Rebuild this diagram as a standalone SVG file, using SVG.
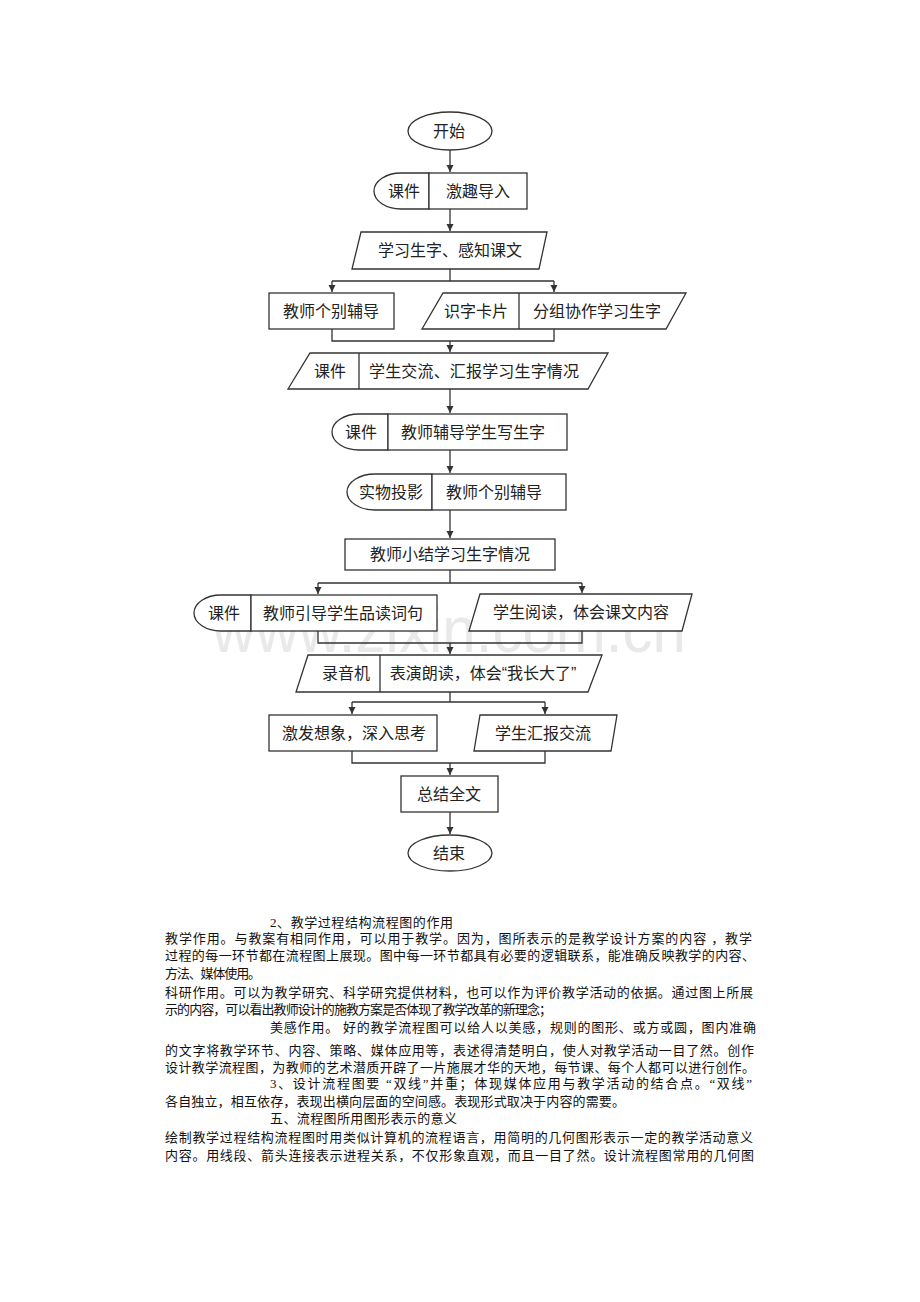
<svg xmlns="http://www.w3.org/2000/svg" width="920" height="1302" viewBox="0 0 920 1302">
<style>
.shape{fill:#fff;stroke:#333;stroke-width:1.3}
.div{stroke:#333;stroke-width:1.3;fill:none}
.lbl{font-family:"Liberation Sans","Noto Sans CJK SC",sans-serif;font-size:16px;fill:#222;text-anchor:middle}
.conn{fill:none;stroke:#333;stroke-width:1.3}
.body{font-family:"Liberation Serif","Noto Sans CJK SC",serif;font-size:13px;fill:#111}
.wm{font-family:"Liberation Sans","Noto Sans",sans-serif;font-size:64px;fill:#e9e9e9}
</style>
<defs>
<marker id="arr" markerUnits="userSpaceOnUse" markerWidth="8" markerHeight="8" refX="7" refY="3.5" orient="auto">
<path d="M0,0 L7,3.5 L0,7 z" fill="#333"/>
</marker>
</defs>
<rect width="920" height="1302" fill="#fff"/>
<text class="wm" x="212" y="652" textLength="474" lengthAdjust="spacingAndGlyphs">www.zixin.com.cn</text>

<g id="connectors">
<path class="conn" d="M450,150 V172" marker-end="url(#arr)"/>
<path class="conn" d="M450,209 V231" marker-end="url(#arr)"/>
<path class="conn" d="M450,269 V281 M332,281 H554"/>
<path class="conn" d="M332,281 V292" marker-end="url(#arr)"/>
<path class="conn" d="M554,281 V292" marker-end="url(#arr)"/>
<path class="conn" d="M332,329 V341 H554 V329"/>
<path class="conn" d="M450,341 V352" marker-end="url(#arr)"/>
<path class="conn" d="M450,389 V413" marker-end="url(#arr)"/>
<path class="conn" d="M450,450 V473" marker-end="url(#arr)"/>
<path class="conn" d="M450,510 V538" marker-end="url(#arr)"/>
<path class="conn" d="M450,570 V583 M318,583 H582"/>
<path class="conn" d="M318,583 V594" marker-end="url(#arr)"/>
<path class="conn" d="M582,583 V593" marker-end="url(#arr)"/>
<path class="conn" d="M318,631 V643 H582 V631"/>
<path class="conn" d="M450,643 V654" marker-end="url(#arr)"/>
<path class="conn" d="M450,692 V702 M352,702 H545"/>
<path class="conn" d="M352,702 V714" marker-end="url(#arr)"/>
<path class="conn" d="M545,702 V714" marker-end="url(#arr)"/>
<path class="conn" d="M352,751 V763 H545 V751"/>
<path class="conn" d="M450,763 V775" marker-end="url(#arr)"/>
<path class="conn" d="M450,812 V834" marker-end="url(#arr)"/>
</g>

<g id="start">
<ellipse class="shape" cx="450" cy="131" rx="42" ry="19"/>
<text class="lbl" x="449" y="137">开始</text>
</g>

<g id="n1">
<path class="shape" d="M429,173 H401 A27,18 0 0 0 401,209 H429 Z"/>
<rect class="shape" x="429" y="173" width="98" height="36"/>
<text class="lbl" x="404" y="197">课件</text>
<text class="lbl" x="478" y="197">激趣导入</text>
</g>

<g id="n2">
<polygon class="shape" points="361,232 547,232 539,269 352,269"/>
<text class="lbl" x="450" y="256">学习生字、感知课文</text>
</g>

<g id="n3">
<rect class="shape" x="269" y="293" width="125" height="36"/>
<text class="lbl" x="331" y="317">教师个别辅导</text>
</g>

<g id="n4">
<polygon class="shape" points="443,293 686,293 666,329 422,329"/>
<line class="div" x1="519" y1="293" x2="519" y2="329"/>
<text class="lbl" x="476" y="317">识字卡片</text>
<text class="lbl" x="597" y="317">分组协作学习生字</text>
</g>

<g id="n5">
<polygon class="shape" points="310,353 608,353 588,389 288,389"/>
<line class="div" x1="359" y1="353" x2="359" y2="389"/>
<text class="lbl" x="330" y="377">课件</text>
<text class="lbl" x="474" y="377" textLength="210">学生交流、汇报学习生字情况</text>
</g>

<g id="n6">
<path class="shape" d="M388,414 H359 A27,18 0 0 0 359,450 H388 Z"/>
<rect class="shape" x="388" y="414" width="179" height="36"/>
<text class="lbl" x="361" y="438">课件</text>
<text class="lbl" x="473" y="438">教师辅导学生写生字</text>
</g>

<g id="n7">
<path class="shape" d="M432,474 H375 A28,18 0 0 0 375,510 H432 Z"/>
<rect class="shape" x="432" y="474" width="134" height="36"/>
<text class="lbl" x="391" y="498">实物投影</text>
<text class="lbl" x="494" y="498">教师个别辅导</text>
</g>

<g id="n8">
<rect class="shape" x="345" y="539" width="210" height="31"/>
<text class="lbl" x="450" y="560">教师小结学习生字情况</text>
</g>

<g id="n9">
<path class="shape" d="M251,595 H221 A27,18 0 0 0 221,631 H251 Z"/>
<rect class="shape" x="251" y="595" width="186" height="36"/>
<text class="lbl" x="224" y="619">课件</text>
<text class="lbl" x="343" y="619">教师引导学生品读词句</text>
</g>

<g id="n10">
<polygon class="shape" points="480,594 692,594 682,631 469,631"/>
<text class="lbl" x="581" y="618">学生阅读，体会课文内容</text>
</g>

<g id="n11">
<polygon class="shape" points="308,655 602,655 588,692 296,692"/>
<line class="div" x1="380" y1="655" x2="380" y2="692"/>
<text class="lbl" x="346" y="679">录音机</text>
<text class="lbl" x="483" y="679">表演朗读，体会“我长大了”</text>
</g>

<g id="n12">
<rect class="shape" x="269" y="715" width="168" height="36"/>
<text class="lbl" x="354" y="739">激发想象，深入思考</text>
</g>

<g id="n13">
<polygon class="shape" points="480,715 617,715 611,751 474,751"/>
<text class="lbl" x="543" y="739">学生汇报交流</text>
</g>

<g id="n14">
<rect class="shape" x="401" y="776" width="97" height="36"/>
<text class="lbl" x="449" y="800">总结全文</text>
</g>

<g id="end">
<ellipse class="shape" cx="450" cy="853" rx="42" ry="18"/>
<text class="lbl" x="449" y="859">结束</text>
</g>

<g id="body-text">
<text class="body" x="270" y="927" textLength="183">2、教学过程结构流程图的作用</text>
<text class="body" x="165" y="943" textLength="587">教学作用。与教案有相同作用，可以用于教学。因为，图所表示的是教学设计方案的内容 ，教学</text>
<text class="body" x="165" y="960" textLength="590">过程的每一环节都在流程图上展现。图中每一环节都具有必要的逻辑联系，能准确反映教学的内容、</text>
<text class="body" x="165" y="978" textLength="96">方法、媒体使用。</text>
<text class="body" x="165" y="997" textLength="588">科研作用。可以为教学研究、科学研究提供材料，也可以作为评价教学活动的依据。通过图上所展</text>
<text class="body" x="165" y="1014" textLength="387">示的内容，可以看出教师设计的施教方案是否体现了教学改革的新理念；</text>
<text class="body" x="270" y="1032" textLength="486">美感作用。 好的教学流程图可以给人以美感，规则的图形、或方或圆，图内准确</text>
<text class="body" x="165" y="1055" textLength="589">的文字将教学环节、内容、策略、媒体应用等，表述得清楚明白，使人对教学活动一目了然。创作</text>
<text class="body" x="165" y="1072" textLength="590">设计教学流程图，为教师的艺术潜质开辟了一片施展才华的天地，每节课、每个人都可以进行创作。</text>
<text class="body" x="270" y="1088" textLength="482">3、设计流程图要 “双线”并重；体现媒体应用与教学活动的结合点。“双线”</text>
<text class="body" x="165" y="1106" textLength="460">各自独立，相互依存，表现出横向层面的空间感。表现形式取决于内容的需要。</text>
<text class="body" x="270" y="1123" textLength="187">五、流程图所用图形表示的意义</text>
<text class="body" x="165" y="1142" textLength="588">绘制教学过程结构流程图时用类似计算机的流程语言，用简明的几何图形表示一定的教学活动意义</text>
<text class="body" x="165" y="1160" textLength="589">内容。用线段、箭头连接表示进程关系，不仅形象直观，而且一目了然。设计流程图常用的几何图</text>
</g>
</svg>
